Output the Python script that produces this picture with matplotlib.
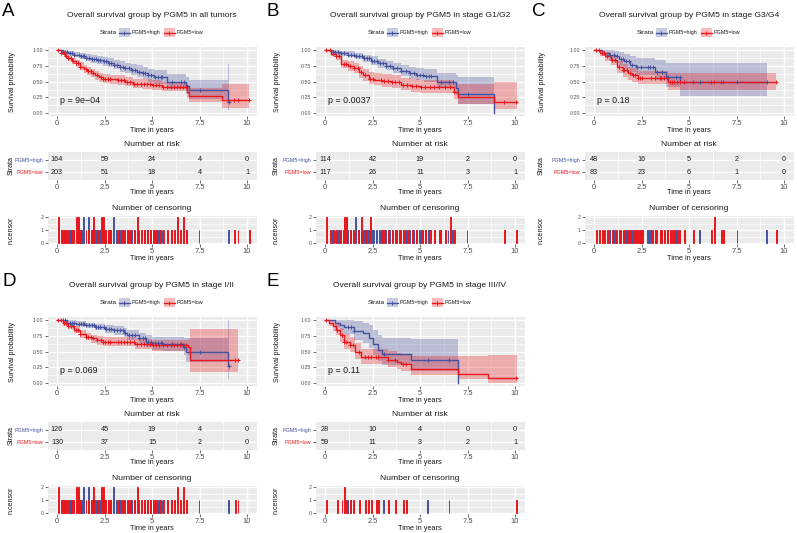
import numpy as np
import matplotlib.pyplot as plt
from matplotlib.patches import Rectangle

plt.rcParams['font.family'] = ['Liberation Sans', 'DejaVu Sans']

# ---------------- values ----------------
time_breaks = [0, 2.5, 5, 7.5, 10]
time_labels = ['0', '2.5', '5', '7.5', '10']
strata = ['PGM5=high', 'PGM5=low']

panel_letters = ['A', 'B', 'C', 'D', 'E']
panel_titles = ['Overall survival group by PGM5 in all tumors',
                'Overall survival group by PGM5 in stage G1/G2',
                'Overall survival group by PGM5 in stage G3/G4',
                'Overall survival group by PGM5 in stage I/II',
                'Overall survival group by PGM5 in stage III/IV']
p_values = ['p = 9e\u221204', 'p = 0.0037', 'p = 0.18', 'p = 0.069', 'p = 0.11']

# number at risk at 0, 2.5, 5, 7.5, 10
A_risk_high = [164, 59, 24, 4, 0]
A_risk_low = [203, 51, 18, 4, 1]
B_risk_high = [114, 42, 19, 2, 0]
B_risk_low = [117, 26, 11, 3, 1]
C_risk_high = [48, 16, 5, 2, 0]
C_risk_low = [83, 23, 6, 1, 0]
D_risk_high = [126, 45, 19, 4, 0]
D_risk_low = [130, 37, 15, 2, 0]
E_risk_high = [28, 10, 4, 0, 0]
E_risk_low = [59, 11, 3, 2, 1]

# Kaplan-Meier steps (time, survival, lower CI, upper CI)
A_high_t = [0, 0.3, 0.6, 0.9, 1.2, 1.5, 1.8, 2.1, 2.4, 2.7, 3.0, 3.3, 3.6, 3.9, 4.2, 4.5, 4.8, 5.1, 5.8, 6.8, 6.95, 9.0, 9.05]
A_high_s = [1.0, 0.97, 0.95, 0.93, 0.91, 0.88, 0.86, 0.84, 0.82, 0.8, 0.77, 0.74, 0.71, 0.69, 0.66, 0.63, 0.6, 0.57, 0.5, 0.43, 0.36, 0.18, 0.18]
A_high_lo = [1.0, 0.94, 0.92, 0.89, 0.86, 0.83, 0.8, 0.78, 0.75, 0.73, 0.7, 0.66, 0.63, 0.6, 0.57, 0.54, 0.5, 0.47, 0.39, 0.31, 0.22, 0.05, 0.05]
A_high_hi = [1.0, 1.0, 0.99, 0.97, 0.96, 0.94, 0.92, 0.9, 0.89, 0.87, 0.85, 0.82, 0.8, 0.78, 0.76, 0.73, 0.7, 0.68, 0.62, 0.57, 0.53, 0.78, 0.78]
A_low_t = [0, 0.2, 0.4, 0.6, 0.8, 1.0, 1.2, 1.4, 1.6, 1.8, 2.0, 2.2, 2.4, 2.8, 3.2, 3.6, 4.0, 4.5, 5.0, 5.5, 6.85, 6.95, 8.7, 10.1]
A_low_s = [1.0, 0.95, 0.91, 0.87, 0.83, 0.79, 0.74, 0.7, 0.67, 0.63, 0.6, 0.57, 0.55, 0.54, 0.52, 0.5, 0.47, 0.46, 0.44, 0.42, 0.33, 0.28, 0.21, 0.21]
A_low_lo = [1.0, 0.92, 0.87, 0.82, 0.78, 0.73, 0.68, 0.64, 0.6, 0.57, 0.53, 0.5, 0.48, 0.47, 0.45, 0.43, 0.4, 0.38, 0.37, 0.35, 0.24, 0.18, 0.08, 0.08]
A_low_hi = [1.0, 0.98, 0.95, 0.92, 0.88, 0.85, 0.81, 0.77, 0.74, 0.7, 0.67, 0.64, 0.62, 0.61, 0.6, 0.58, 0.55, 0.54, 0.52, 0.5, 0.44, 0.4, 0.47, 0.47]

B_high_t = [0, 0.4, 0.8, 1.2, 1.6, 2.0, 2.4, 2.8, 3.2, 3.6, 4.0, 4.4, 4.8, 5.2, 5.9, 6.9, 7.0, 8.9]
B_high_s = [1.0, 0.97, 0.95, 0.93, 0.91, 0.87, 0.83, 0.79, 0.75, 0.71, 0.67, 0.64, 0.61, 0.59, 0.5, 0.4, 0.31, 0.0]
B_high_lo = [1.0, 0.94, 0.91, 0.89, 0.86, 0.81, 0.77, 0.72, 0.68, 0.63, 0.59, 0.55, 0.52, 0.5, 0.4, 0.29, 0.14, 0.0]
B_high_hi = [1.0, 1.0, 0.99, 0.98, 0.96, 0.93, 0.9, 0.86, 0.83, 0.8, 0.77, 0.74, 0.72, 0.7, 0.64, 0.6, 0.58, 0.0]
B_low_t = [0, 0.3, 0.6, 0.85, 1.2, 1.5, 1.8, 2.0, 2.3, 2.6, 3.0, 3.5, 4.0, 4.5, 5.0, 6.8, 7.0, 8.9, 10.1]
B_low_s = [1.0, 0.94, 0.9, 0.78, 0.75, 0.71, 0.65, 0.6, 0.55, 0.53, 0.51, 0.49, 0.45, 0.43, 0.41, 0.33, 0.25, 0.17, 0.17]
B_low_lo = [1.0, 0.9, 0.85, 0.71, 0.67, 0.63, 0.56, 0.51, 0.46, 0.44, 0.42, 0.4, 0.36, 0.34, 0.32, 0.22, 0.14, 0.06, 0.06]
B_low_hi = [1.0, 0.98, 0.95, 0.85, 0.83, 0.8, 0.75, 0.7, 0.66, 0.64, 0.62, 0.6, 0.56, 0.55, 0.53, 0.48, 0.46, 0.49, 0.49]

C_high_t = [0, 0.4, 0.8, 1.1, 1.3, 1.6, 1.9, 2.2, 3.2, 3.8, 4.55, 9.1]
C_high_s = [1.0, 0.96, 0.93, 0.9, 0.86, 0.82, 0.77, 0.73, 0.66, 0.58, 0.49, 0.49]
C_high_lo = [1.0, 0.9, 0.85, 0.8, 0.75, 0.7, 0.65, 0.6, 0.52, 0.42, 0.28, 0.28]
C_high_hi = [1.0, 1.0, 1.0, 0.99, 0.97, 0.94, 0.91, 0.88, 0.84, 0.8, 0.8, 0.8]
C_low_t = [0, 0.3, 0.6, 0.9, 1.2, 1.5, 1.8, 2.0, 2.3, 3.9, 9.6]
C_low_s = [1.0, 0.95, 0.9, 0.84, 0.73, 0.68, 0.63, 0.6, 0.56, 0.49, 0.49]
C_low_lo = [1.0, 0.9, 0.83, 0.76, 0.64, 0.58, 0.53, 0.5, 0.46, 0.36, 0.36]
C_low_hi = [1.0, 1.0, 0.97, 0.93, 0.83, 0.78, 0.74, 0.71, 0.67, 0.64, 0.64]

D_high_t = [0, 0.5, 1.0, 1.5, 2.0, 2.5, 3.0, 3.5, 3.7, 4.3, 4.7, 5.0, 5.6, 6.7, 6.8, 9.0, 9.05]
D_high_s = [1.0, 0.96, 0.94, 0.92, 0.89, 0.86, 0.84, 0.8, 0.76, 0.71, 0.66, 0.63, 0.62, 0.57, 0.5, 0.27, 0.27]
D_high_lo = [1.0, 0.93, 0.9, 0.87, 0.84, 0.8, 0.77, 0.73, 0.68, 0.62, 0.57, 0.53, 0.51, 0.45, 0.33, 0.06, 0.06]
D_high_hi = [1.0, 1.0, 0.98, 0.96, 0.94, 0.92, 0.9, 0.87, 0.84, 0.8, 0.76, 0.74, 0.74, 0.72, 0.72, 1.0, 1.0]
D_low_t = [0, 0.3, 0.6, 0.9, 1.2, 1.5, 1.8, 2.1, 2.4, 4.1, 5.0, 6.9, 7.0, 9.5]
D_low_s = [1.0, 0.95, 0.9, 0.84, 0.78, 0.74, 0.71, 0.68, 0.66, 0.62, 0.6, 0.57, 0.37, 0.37]
D_low_lo = [1.0, 0.91, 0.86, 0.79, 0.72, 0.68, 0.64, 0.61, 0.59, 0.54, 0.51, 0.45, 0.17, 0.17]
D_low_hi = [1.0, 0.99, 0.95, 0.9, 0.84, 0.8, 0.77, 0.75, 0.73, 0.7, 0.69, 0.7, 0.86, 0.86]

E_high_t = [0, 0.5, 0.8, 1.0, 1.5, 2.0, 2.3, 2.5, 2.8, 3.0, 4.5, 7.0]
E_high_s = [1.0, 0.96, 0.93, 0.89, 0.82, 0.79, 0.72, 0.62, 0.52, 0.46, 0.36, 0.0]
E_high_lo = [1.0, 0.89, 0.84, 0.78, 0.68, 0.64, 0.56, 0.45, 0.35, 0.29, 0.19, 0.0]
E_high_hi = [1.0, 1.0, 1.0, 1.0, 0.98, 0.96, 0.92, 0.85, 0.77, 0.72, 0.7, 0.0]
E_low_t = [0, 0.2, 0.4, 0.6, 0.8, 1.0, 1.3, 1.6, 1.9, 3.3, 3.8, 4.0, 4.5, 7.0, 8.6, 10.1]
E_low_s = [1.0, 0.95, 0.9, 0.85, 0.76, 0.66, 0.6, 0.5, 0.41, 0.37, 0.33, 0.31, 0.23, 0.15, 0.08, 0.08]
E_low_lo = [1.0, 0.9, 0.83, 0.77, 0.66, 0.55, 0.49, 0.39, 0.3, 0.26, 0.22, 0.2, 0.13, 0.06, 0.01, 0.01]
E_low_hi = [1.0, 1.0, 0.98, 0.94, 0.87, 0.78, 0.73, 0.63, 0.55, 0.51, 0.48, 0.46, 0.43, 0.43, 0.44, 0.44]

# censoring times (a repeated time = 2 censored at that time)
A_high_cens = [0.3, 0.42, 0.55, 0.68, 0.8, 0.92, 1.15, 1.25, 1.35, 1.43, 1.43, 1.55, 1.7, 1.7, 1.82, 1.95, 2.05,
               2.15, 2.25, 2.45, 2.6, 2.72, 2.85, 3.0, 3.0, 3.15, 3.3, 3.45, 3.6, 3.8, 3.95, 4.1, 4.3, 4.5, 4.65,
               4.8, 4.95, 5.15, 5.3, 5.45, 5.55, 6.05, 6.55, 6.7, 6.85, 7.5, 9.05]
A_low_cens = [0.07, 0.07, 0.2, 0.35, 0.48, 0.6, 0.72, 0.85, 1.0, 1.0, 1.1, 1.1, 1.22, 1.5, 1.62, 1.78, 1.9, 1.9,
              2.1, 2.3, 2.3, 2.4, 2.4, 2.55, 2.68, 2.8, 3.2, 3.35, 3.5, 3.7, 3.85, 4.05, 4.2, 4.2, 4.4, 4.6, 4.75,
              4.9, 5.05, 5.2, 5.35, 5.6, 5.8, 6.0, 6.15, 6.3, 6.3, 6.45, 6.65, 6.65, 6.8, 9.3, 9.5, 10.1]
B_high_cens = [0.4, 0.55, 0.7, 0.85, 1.0, 1.2, 1.35, 1.5, 1.65, 1.65, 1.8, 1.95, 2.05, 2.2, 2.3, 2.45, 2.6, 2.75,
               2.9, 3.05, 3.2, 3.4, 3.6, 3.8, 4.0, 4.25, 4.45, 4.7, 4.85, 5.0, 5.15, 5.3, 5.45, 5.6, 6.1, 6.5,
               6.75, 7.5]
B_low_cens = [0.03, 0.03, 0.25, 0.4, 0.6, 0.75, 1.0, 1.0, 1.1, 1.1, 1.3, 1.5, 1.75, 1.9, 1.9, 2.1, 2.35, 2.35,
              2.5, 2.95, 3.1, 3.3, 3.5, 3.7, 3.9, 4.1, 4.3, 4.6, 4.8, 5.05, 5.25, 5.5, 5.75, 6.0, 6.3, 6.6, 6.6,
              6.8, 9.4, 10.05]
C_high_cens = [0.85, 1.05, 1.2, 1.4, 1.55, 1.7, 1.85, 2.0, 2.25, 2.45, 2.85, 2.95, 3.1, 3.3, 3.6, 3.9, 4.3, 4.5,
               5.6, 7.55, 9.1]
C_low_cens = [0.1, 0.25, 0.4, 0.55, 0.7, 0.95, 1.1, 1.3, 1.5, 1.6, 1.75, 1.9, 2.05, 2.15, 2.3, 2.4, 2.55, 3.0,
              3.2, 3.45, 3.55, 3.7, 3.85, 4.0, 4.1, 4.2, 4.35, 4.5, 4.75, 5.2, 6.15, 6.33, 6.33, 6.7, 6.8, 9.6]
D_high_cens = [0.3, 0.42, 0.55, 0.68, 0.8, 0.92, 1.15, 1.25, 1.35, 1.43, 1.43, 1.55, 1.7, 1.7, 1.82, 1.95, 2.05,
               2.15, 2.25, 2.45, 2.6, 2.72, 2.85, 3.0, 3.0, 3.15, 3.3, 3.45, 3.6, 3.8, 3.95, 4.1, 4.3, 4.5, 4.65,
               4.8, 4.95, 5.15, 5.3, 5.45, 5.55, 6.05, 6.55, 6.7, 7.5, 9.05]
D_low_cens = [0.07, 0.07, 0.2, 0.35, 0.48, 0.6, 0.72, 0.85, 1.0, 1.0, 1.1, 1.1, 1.22, 1.5, 1.62, 1.78, 1.9, 1.9,
              2.1, 2.3, 2.3, 2.4, 2.4, 2.55, 2.68, 2.8, 3.2, 3.35, 3.5, 3.7, 3.85, 4.05, 4.2, 4.2, 4.4, 4.6, 4.75,
              4.9, 5.05, 5.2, 5.35, 5.6, 5.8, 6.0, 6.15, 6.3, 6.3, 6.45, 6.65, 6.65, 6.8, 9.35, 9.5]
E_high_cens = [1.2, 1.35, 1.55, 3.1, 5.4, 6.55]
E_low_cens = [0.03, 0.65, 0.87, 1.0, 1.0, 1.13, 1.3, 1.45, 1.8, 2.1, 2.25, 2.4, 2.7, 2.8, 3.3, 3.7, 4.1, 4.25,
              10.05]

# ---------------- layout / style ----------------
W, H = 797, 533
BLUE = '#46529E'
RED = '#E8171D'
BG = '#EBEBEB'
TXT = '#1A1A1A'

curves = {
    'A': ((A_high_t, A_high_s, A_high_lo, A_high_hi, A_high_cens), (A_low_t, A_low_s, A_low_lo, A_low_hi, A_low_cens)),
    'B': ((B_high_t, B_high_s, B_high_lo, B_high_hi, B_high_cens), (B_low_t, B_low_s, B_low_lo, B_low_hi, B_low_cens)),
    'C': ((C_high_t, C_high_s, C_high_lo, C_high_hi, C_high_cens), (C_low_t, C_low_s, C_low_lo, C_low_hi, C_low_cens)),
    'D': ((D_high_t, D_high_s, D_high_lo, D_high_hi, D_high_cens), (D_low_t, D_low_s, D_low_lo, D_low_hi, D_low_cens)),
    'E': ((E_high_t, E_high_s, E_high_lo, E_high_hi, E_high_cens), (E_low_t, E_low_s, E_low_lo, E_low_hi, E_low_cens)),
}
risks = {'A': (A_risk_high, A_risk_low), 'B': (B_risk_high, B_risk_low), 'C': (C_risk_high, C_risk_low),
         'D': (D_risk_high, D_risk_low), 'E': (E_risk_high, E_risk_low)}
origins = {'A': (0, 0, 0), 'B': (265, 0, 3), 'C': (530, 0, 7), 'D': (0, 270, 0), 'E': (265, 270, 3)}

fig = plt.figure(figsize=(W / 100, H / 100), dpi=100)
ov = fig.add_axes([0, 0, 1, 1])
ov.set_xlim(0, W)
ov.set_ylim(H, 0)
ov.axis('off')


def box(x, y, w, h):
    return [x / W, 1 - (y + h) / H, w / W, h / H]


def base(ax, xmaj, xmin, ymaj, ymin, ylim):
    ax.set_facecolor(BG)
    for s in ax.spines.values():
        s.set_visible(False)
    for v in xmaj:
        ax.axvline(v, color='white', lw=1.0, zorder=0.6)
    for v in xmin:
        ax.axvline(v, color='white', lw=0.5, zorder=0.6)
    for v in ymaj:
        ax.axhline(v, color='white', lw=1.0, zorder=0.6)
    for v in ymin:
        ax.axhline(v, color='white', lw=0.5, zorder=0.6)
    ax.set_xlim(-0.5, 10.5)
    ax.set_ylim(*ylim)
    ax.set_xticks(time_breaks)
    ax.set_xticklabels(time_labels)
    ax.tick_params(length=2, width=0.5, color='#333333', labelcolor='#4D4D4D', pad=1)
    ax.tick_params(axis='x', labelsize=5.4, pad=0.8)


xminor = [1.25, 3.75, 6.25, 8.75]

for i, key in enumerate(panel_letters):
    ox, oy, dx = origins[key]
    x0 = ox + 47.5 + dx
    w = 209
    cx = x0 + w / 2

    ov.text(ox + 2, oy + 12, key, fontsize=13.5, ha='left', va='center', color='black')
    ov.text(cx, oy + 15.5, panel_titles[i], fontsize=6.1, ha='center', va='center', color=TXT)

    # legend
    ly = oy + 32.5
    ov.text(cx - 52, ly, 'Strata', fontsize=4.6, ha='left', va='center', color=TXT)
    for bx, tx, col, lab in [(cx - 33, cx - 20, BLUE, strata[0]), (cx + 12, cx + 25, RED, strata[1])]:
        ov.add_patch(Rectangle((bx, ly - 4.5), 11, 9, facecolor=col, alpha=0.3, lw=0))
        ov.plot([bx, bx + 11], [ly, ly], color=col, lw=1.0)
        ov.plot(bx + 5.5, ly, '+', color=col, ms=3, mew=0.7)
        ov.text(tx, ly, lab, fontsize=3.9, ha='left', va='center', color=TXT)

    # survival curves
    ax = fig.add_axes(box(x0, oy + 47, w, 69.3))
    base(ax, time_breaks, xminor, [0, 0.25, 0.5, 0.75, 1.0], [0.125, 0.375, 0.625, 0.875], (-0.05, 1.05))
    ax.set_yticks([0, 0.25, 0.5, 0.75, 1.0])
    ax.set_yticklabels(['0.00', '0.25', '0.50', '0.75', '1.00'])
    ax.tick_params(axis='y', labelsize=3.8)
    for (t, s, lo, hi, cens), col in zip(curves[key], [BLUE, RED]):
        ax.fill_between(t, lo, hi, step='post', color=col, alpha=0.3, lw=0, zorder=1)
    for (t, s, lo, hi, cens), col in zip(curves[key], [BLUE, RED]):
        ax.step(t, s, where='post', color=col, lw=1.0, zorder=2)
        ct = np.unique(cens)
        idx = np.searchsorted(t, ct, side='right') - 1
        ax.plot(ct, np.array(s)[idx], '+', color=col, ms=3, mew=0.7, zorder=3)
    ax.text(0.15, 0.2, p_values[i], fontsize=6.4, ha='left', va='center', color=TXT)
    ov.text(cx, oy + 130, 'Time in years', fontsize=5.3, ha='center', va='center', color=TXT)
    ov.text(ox + 13, oy + 82, 'Survival probability', fontsize=5.1, rotation=90, ha='center', va='center', color=TXT)

    # number at risk table
    ov.text(cx, oy + 144, 'Number at risk', fontsize=6.1, ha='center', va='center', color=TXT)
    rax = fig.add_axes(box(x0, oy + 152, w, 28))
    base(rax, [], xminor, [1, 2], [], (0.4, 2.6))
    rax.set_yticks([2, 1])
    rax.set_yticklabels(strata)
    rax.tick_params(axis='y', labelsize=3.9)
    for lab, col in zip(rax.get_yticklabels(), [BLUE, RED]):
        lab.set_color(col)
    rh, rl = risks[key]
    for j, tb in enumerate(time_breaks):
        rax.text(tb, 2, str(rh[j]), fontsize=5.2, ha='center', va='center', color=TXT)
        rax.text(tb, 1, str(rl[j]), fontsize=5.2, ha='center', va='center', color=TXT)
    ov.text(cx, oy + 193, 'Time in years', fontsize=5.3, ha='center', va='center', color=TXT)
    ov.text(ox + 11.5, oy + 166, 'Strata', fontsize=5.1, rotation=90, ha='center', va='center', color=TXT)

    # number of censoring
    ov.text(cx, oy + 208, 'Number of censoring', fontsize=6.1, ha='center', va='center', color=TXT)
    cax = fig.add_axes(box(x0, oy + 215.7, w, 28.6))
    base(cax, time_breaks, xminor, [0, 1, 2], [0.5, 1.5], (-0.1, 2.1))
    cax.set_yticks([0, 1, 2])
    cax.tick_params(axis='y', labelsize=3.8)
    for (t, s, lo, hi, cens), col, off in zip(curves[key], [BLUE, RED], [-0.025, 0.025]):
        ct, cnt = np.unique(cens, return_counts=True)
        cax.bar(ct + off, cnt, width=0.05, color=col, edgecolor=col, lw=0.7, zorder=2)
    ov.text(cx, oy + 258, 'Time in years', fontsize=5.3, ha='center', va='center', color=TXT)
    ov.text(ox + 11.5, oy + 230, 'n.censor', fontsize=5.1, rotation=90, ha='center', va='center', color=TXT)

fig.savefig('out.png', dpi=100, facecolor='white')
